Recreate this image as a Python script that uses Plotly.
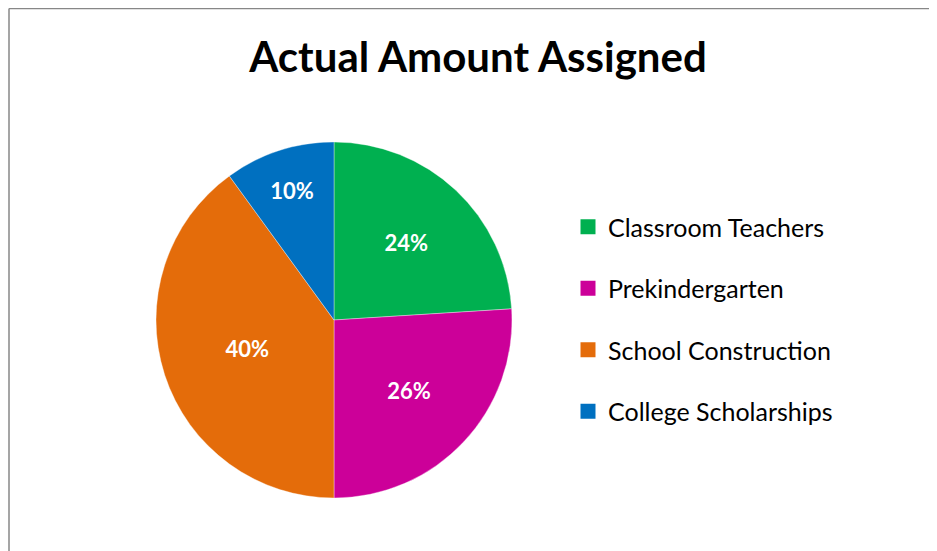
import plotly.graph_objects as go

title = "Actual Amount Assigned"
categories = ["Classroom Teachers", "Prekindergarten", "School Construction", "College Scholarships"]
values = [24, 26, 40, 10]
colors = ["#00B050", "#CC0099", "#E46C0A", "#0070C0"]

W, H = 929, 543  # page body has an 8px margin

fig = go.Figure()
fig.add_trace(go.Pie(
    labels=categories,
    values=values,
    sort=False,
    direction="clockwise",
    rotation=0,
    marker=dict(colors=colors, line=dict(color="rgba(255,255,255,0.6)", width=0.6)),
    texttemplate="%{percent:.0%}",
    textposition="inside",
    insidetextorientation="horizontal",
    textfont=dict(family="Lato", size=22, color="white", weight="bold"),
    domain=dict(x=[148/W, 504/W], y=[1-490/H, 1-134/H]),
    showlegend=False,
    hoverinfo="label+percent",
))

# legend entries built from the categories and colours
for i, (name, col) in enumerate(zip(categories, colors)):
    fig.add_trace(go.Scatter(
        x=[None], y=[None], mode="markers", name=name,
        marker=dict(symbol="square", size=15, color=col),
        legendgroup=f"g{i}", showlegend=True,
    ))

fig.update_layout(
    width=W, height=H,
    margin=dict(l=0, r=0, t=0, b=0),
    paper_bgcolor="white", plot_bgcolor="white",
    title=dict(text=f"<b>{title}</b>", x=470/W, xanchor="center", y=1-49/H, yanchor="middle",
               font=dict(family="Lato", size=42, color="black")),
    xaxis=dict(visible=False), yaxis=dict(visible=False),
    legend=dict(x=560/W, xanchor="left", y=1-196/H, yanchor="top",
                font=dict(family="Lato", size=25, color="black"),
                traceorder="grouped", tracegroupgap=26, itemwidth=30,
                bgcolor="rgba(0,0,0,0)"),
    shapes=[
        dict(type="line", xref="paper", yref="paper", x0=1/W, x1=1, y0=1-0.5/H, y1=1-0.5/H,
             line=dict(color="#878787", width=1.5)),
        dict(type="line", xref="paper", yref="paper", x0=1/W, x1=1/W, y0=1-0.5/H, y1=0,
             line=dict(color="#878787", width=1.5)),
    ],
)

fig.write_html(
    "out.html",
    post_script="document.documentElement.style.overflow='hidden';document.body.style.overflow='hidden';",
)
